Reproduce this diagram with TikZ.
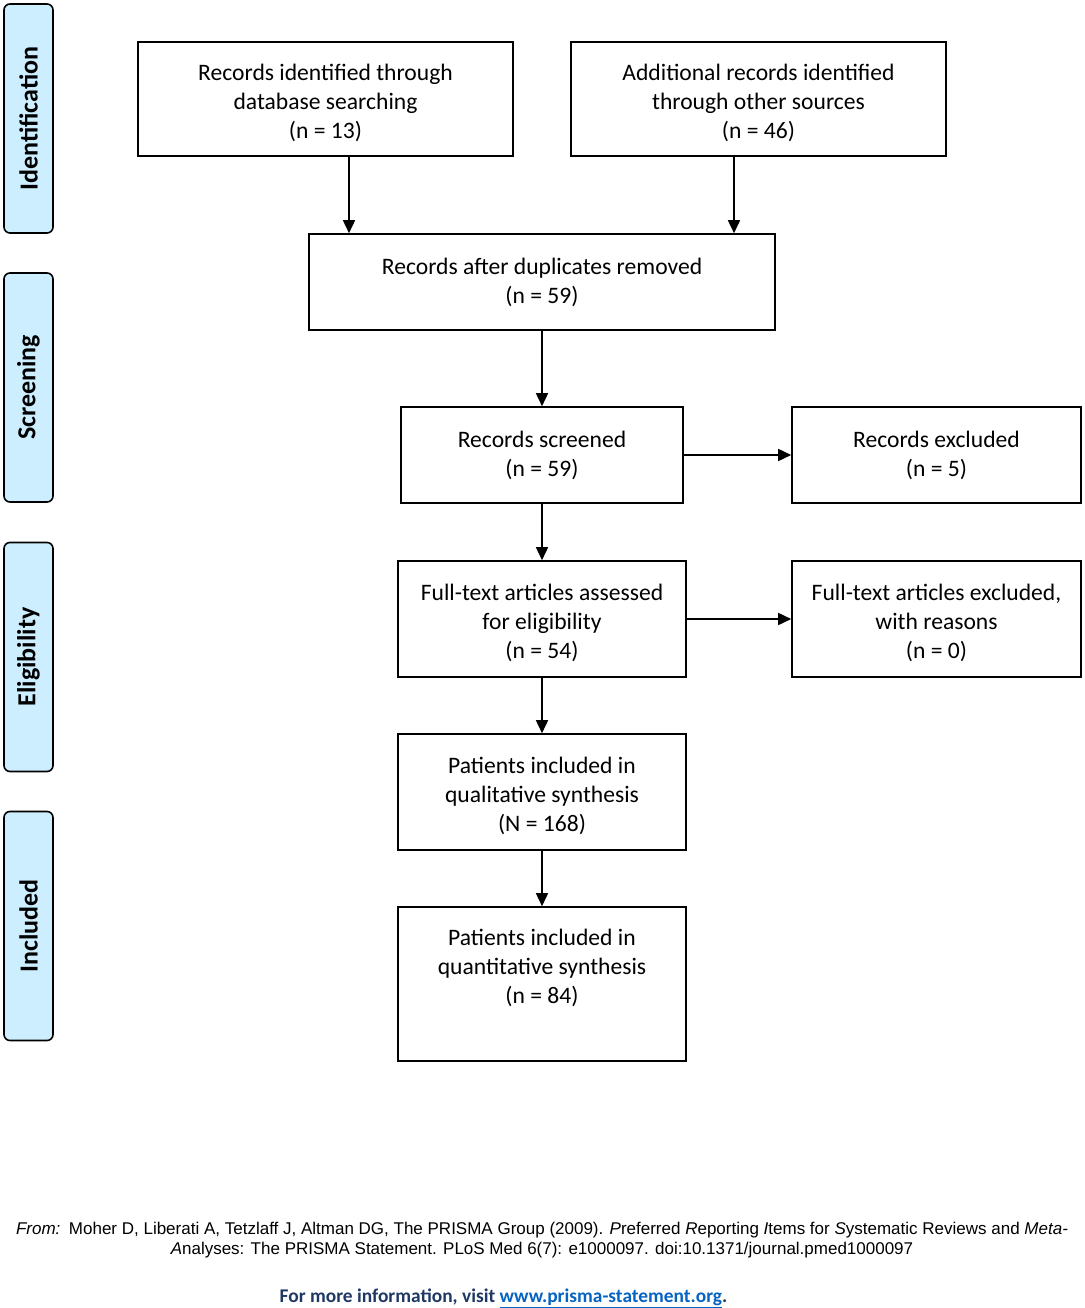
\documentclass[tikz,border=0pt]{standalone}
\usepackage{fontspec}
\setmainfont{Carlito}
\newfontfamily\arialf{Liberation Sans}
\usetikzlibrary{arrows.meta}
\definecolor{sidefill}{HTML}{CCEEFF}
\definecolor{navy}{HTML}{1F3864}
\definecolor{linkblue}{HTML}{0563C1}
\begin{document}
\begin{tikzpicture}[x=1pt,y=-1pt,
  box/.style={draw=black,line width=1.6pt,rectangle,inner sep=0pt},
  txt/.style={align=center,inner sep=0pt,font=\fontsize{23.6}{29}\selectfont},
  side/.style={draw=black,line width=1.6pt,fill=sidefill,rounded corners=6pt,
    minimum width=49pt,minimum height=229pt,inner sep=0pt},
  sidetext/.style={rotate=90,font=\fontsize{26}{30}\selectfont\bfseries},
  arr/.style={line width=1.6pt,-{Triangle[length=13pt,width=12pt]}}]
\useasboundingbox (0,0) rectangle (1084,1308);
% side labels
\node[side] (s1) at (28.5,118.5) {};
\node[sidetext] (s1t) at (s1.center) {Identification};
\node[side] (s2) at (28.5,387.5) {};
\node[sidetext] (s2t) at (s2.center) {Screening};
\node[side] (s3) at (28.5,657) {};
\node[sidetext] (s3t) at (s3.center) {Eligibility};
\node[side] (s4) at (28.5,926) {};
\node[sidetext] (s4t) at (s4.center) {Included};
% boxes
\node[box,minimum width=375pt,minimum height=114pt] (b1) at (325.5,99) {};
\node[txt] (b1t) at ([yshift=-4pt]b1.center) {Records identified through\\database searching\\(n = 13)};
\node[box,minimum width=375pt,minimum height=114pt] (b2) at (758.5,99) {};
\node[txt] (b2t) at ([yshift=-4pt]b2.center) {Additional records identified\\through other sources\\(n = 46)};
\node[box,minimum width=466pt,minimum height=96pt] (b3) at (542,282) {};
\node[txt] (b3t) at (b3.center) {Records after duplicates removed\\(n = 59)};
\node[box,minimum width=282pt,minimum height=96pt] (b4) at (542,455) {};
\node[txt] (b4t) at (b4.center) {Records screened\\(n = 59)};
\node[box,minimum width=289pt,minimum height=96pt] (b5) at (936.5,455) {};
\node[txt] (b5t) at (b5.center) {Records excluded\\(n = 5)};
\node[box,minimum width=288pt,minimum height=116pt] (b6) at (542,619) {};
\node[txt] (b6t) at ([yshift=-4pt]b6.center) {Full-text articles assessed\\for eligibility\\(n = 54)};
\node[box,minimum width=289pt,minimum height=116pt] (b7) at (936.5,619) {};
\node[txt] (b7t) at ([yshift=-4pt]b7.center) {Full-text articles excluded,\\with reasons\\(n = 0)};
\node[box,minimum width=288pt,minimum height=116pt] (b8) at (542,792) {};
\node[txt] (b8t) at ([yshift=-4pt]b8.center) {Patients included in\\qualitative synthesis\\(N = 168)};
\node[box,minimum width=288pt,minimum height=154pt] (b9) at (542,984) {};
\node[txt,anchor=north] (b9t) at (542,929) {Patients included in\\quantitative synthesis\\(n = 84)};
% arrows
\draw[arr] (b1.south -| 349,0) -- (b3.north -| 349,0);
\draw[arr] (b2.south -| 734,0) -- (b3.north -| 734,0);
\draw[arr] (b3) -- (b4);
\draw[arr] (b4) -- (b5);
\draw[arr] (b4) -- (b6);
\draw[arr] (b6) -- (b7);
\draw[arr] (b6) -- (b8);
\draw[arr] (b8) -- (b9);
% footer
\node[align=center,font=\arialf\fontsize{17}{20}\selectfont,inner sep=0pt] (ref) at (542,1240)
 {\textit{From:}\enspace Moher D, Liberati A, Tetzlaff J, Altman DG, The PRISMA Group (2009). \textit{P}referred \textit{R}eporting \textit{I}tems for \textit{S}ystematic Reviews and \textit{Meta-}\\\textit{A}nalyses: The PRISMA Statement. PLoS Med 6(7): e1000097. doi:10.1371/journal.pmed1000097};
\node[font=\fontsize{19.4}{23}\selectfont\bfseries,text=navy,inner sep=0pt] (info) at (503.5,1298)
 {For more information, visit \textcolor{linkblue}{\underline{www.prisma-statement.org}}.};
\end{tikzpicture}
\end{document}
